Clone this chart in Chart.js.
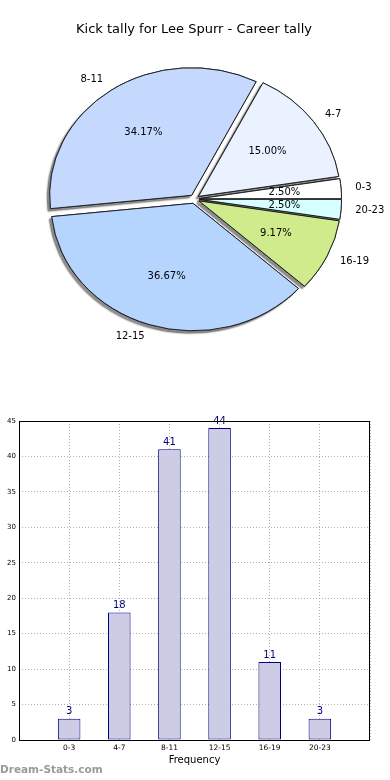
<!DOCTYPE html>
<html>
<head>
<meta charset="utf-8">
<script src="https://cdn.jsdelivr.net/npm/chart.js@4"></script>
<style>
  html, body { margin: 0; padding: 0; background: #fff; width: 390px; height: 780px; overflow: hidden; }
  #pie { position: absolute; left: 0; top: 0; }
  #bar { position: absolute; left: 0; top: 400px; }
</style>
</head>
<body>
<canvas id="pie" width="390" height="398"></canvas>
<canvas id="bar" width="390" height="380"></canvas>
<script>
// ---- data ----
const chartTitle = 'Kick tally for Lee Spurr - Career tally';
const categories = ['0-3', '4-7', '8-11', '12-15', '16-19', '20-23'];
const counts = [3, 18, 41, 44, 11, 3];
const pieColors = ['#ffffff', '#eaf1ff', '#c5d9ff', '#b5d5ff', '#d0eb8c', '#d6ffff'];
const yTickValues = [0, 5, 10, 15, 20, 25, 30, 35, 40, 45];
const xAxisTitle = 'Frequency';
const watermark = 'Dream-Stats.com';

const FONT = '"DejaVu Sans", sans-serif';
const total = counts.reduce((a, b) => a + b, 0);

// pie drawn counter-clockwise from 3 o'clock -> reverse for Chart.js (clockwise)
const pieLabels = categories.slice().reverse();
const pieData = counts.slice().reverse();
const pieBg = pieColors.slice().reverse();

const R = 142;       // pie radius (px)
const E = 5;         // explode distance
const SY = 0.898;    // vertical squash (elliptical pie)

const pieDecor = {
  id: 'pieDecor',
  beforeDatasetsDraw(chart) {
    const ctx = chart.ctx;
    const ca = chart.chartArea;
    const cx = (ca.left + ca.right) / 2, cy = (ca.top + ca.bottom) / 2;
    const meta = chart.getDatasetMeta(0);
    meta.data.forEach(el => {
      const mid = (el.startAngle + el.endAngle) / 2;
      el.x = cx + E * Math.cos(mid);
      el.y = cy + E * Math.sin(mid);
    });
    ctx.save();
    ctx.translate(cx, cy);
    ctx.scale(1, SY);
    ctx.translate(-cx, -cy);
    ctx.save();
    ctx.shadowColor = 'rgba(0,0,0,0.45)';
    ctx.shadowOffsetX = -2.5;
    ctx.shadowOffsetY = 2.5;
    ctx.shadowBlur = 1.5;
    meta.data.forEach(el => el.draw(ctx));
    ctx.restore();
  },
  afterDatasetsDraw(chart) {
    const ctx = chart.ctx;
    ctx.restore();
    const ca = chart.chartArea;
    const cx = (ca.left + ca.right) / 2, cy = (ca.top + ca.bottom) / 2;
    const meta = chart.getDatasetMeta(0);
    ctx.save();
    ctx.fillStyle = '#000';
    ctx.font = '10px ' + FONT;
    ctx.textBaseline = 'middle';
    meta.data.forEach((el, i) => {
      const mid = (el.startAngle + el.endAngle) / 2;
      const ux = Math.cos(mid), uy = Math.sin(mid);
      const dl = E + 1.1 * R;
      ctx.textAlign = ux > 0 ? 'left' : 'right';
      ctx.fillText(pieLabels[i], cx + dl * ux, cy + dl * uy * SY);
      const dp = E + 0.6 * R;
      ctx.textAlign = 'center';
      const pct = (pieData[i] / total * 100).toFixed(2) + '%';
      ctx.fillText(pct, cx + dp * ux, cy + dp * uy * SY);
    });
    ctx.font = '13px ' + FONT;
    ctx.textAlign = 'center';
    ctx.fillText(chartTitle, 194, 30);
    ctx.restore();
  }
};

new Chart(document.getElementById('pie'), {
  type: 'pie',
  data: {
    labels: pieLabels,
    datasets: [{
      data: pieData,
      backgroundColor: pieBg,
      borderColor: '#1a1a1a',
      borderWidth: 1
    }]
  },
  options: {
    responsive: false,
    animation: false,
    events: [],
    rotation: 90,
    radius: R,
    layout: { padding: { left: 0, right: 1, top: 0, bottom: 0 } },
    plugins: { legend: { display: false }, tooltip: { enabled: false }, title: { display: false } }
  },
  plugins: [pieDecor]
});

// ---- bar chart ----
const barLabels = [''].concat(categories, ['']);
const barData = [null].concat(counts, [null]);

const barDecor = {
  id: 'barDecor',
  afterDatasetsDraw(chart) {
    const ctx = chart.ctx;
    const meta = chart.getDatasetMeta(0);
    ctx.save();
    ctx.fillStyle = '#000080';
    ctx.font = '10px ' + FONT;
    ctx.textAlign = 'center';
    ctx.textBaseline = 'bottom';
    meta.data.forEach((el, i) => {
      if (barData[i] == null) return;
      ctx.fillText(String(barData[i]), el.x, el.y - 2);
    });
    ctx.restore();
  },
  afterDraw(chart) {
    const ctx = chart.ctx;
    const ca = chart.chartArea;
    ctx.save();
    ctx.strokeStyle = '#000';
    ctx.lineWidth = 1;
    ctx.strokeRect(ca.left + 0.5, ca.top + 0.5, ca.right - ca.left - 1, ca.bottom - ca.top);
    ctx.fillStyle = '#9a9a9a';
    ctx.font = 'bold 10.5px ' + FONT;
    ctx.textAlign = 'left';
    ctx.textBaseline = 'middle';
    ctx.fillText(watermark, 0, 370);
    ctx.restore();
  }
};

new Chart(document.getElementById('bar'), {
  type: 'bar',
  data: {
    labels: barLabels,
    datasets: [{
      data: barData,
      backgroundColor: '#ccccE4',
      borderColor: '#000080',
      borderWidth: 1,
      borderSkipped: false,
      categoryPercentage: 1,
      barPercentage: 0.45
    }]
  },
  options: {
    responsive: false,
    animation: false,
    events: [],
    layout: { padding: { left: 0, right: 20, top: 21, bottom: 14 } },
    plugins: { legend: { display: false }, tooltip: { enabled: false } },
    scales: {
      x: {
        offset: false,
        z: 1,
        grid: { color: '#b0b0b0', lineWidth: 1, drawTicks: false, offset: false },
        border: { display: false, dash: [1, 2] },
        ticks: { color: '#000', font: { family: FONT, size: 7.5 }, padding: 4, maxRotation: 0, autoSkip: false },
        title: { display: true, text: xAxisTitle, color: '#000', font: { family: FONT, size: 10 }, padding: 0 },
        afterFit(scale) { scale.height = 26; }
      },
      y: {
        min: 0, max: 45,
        z: 1,
        afterBuildTicks(scale) { scale.ticks = yTickValues.map(v => ({ value: v })); },
        grid: { color: '#b0b0b0', lineWidth: 1, drawTicks: false },
        border: { display: false, dash: [1, 2] },
        ticks: { color: '#000', font: { family: FONT, size: 7 }, padding: 3 },
        afterFit(scale) { scale.width = 19; }
      }
    }
  },
  plugins: [barDecor]
});
</script>
</body>
</html>
